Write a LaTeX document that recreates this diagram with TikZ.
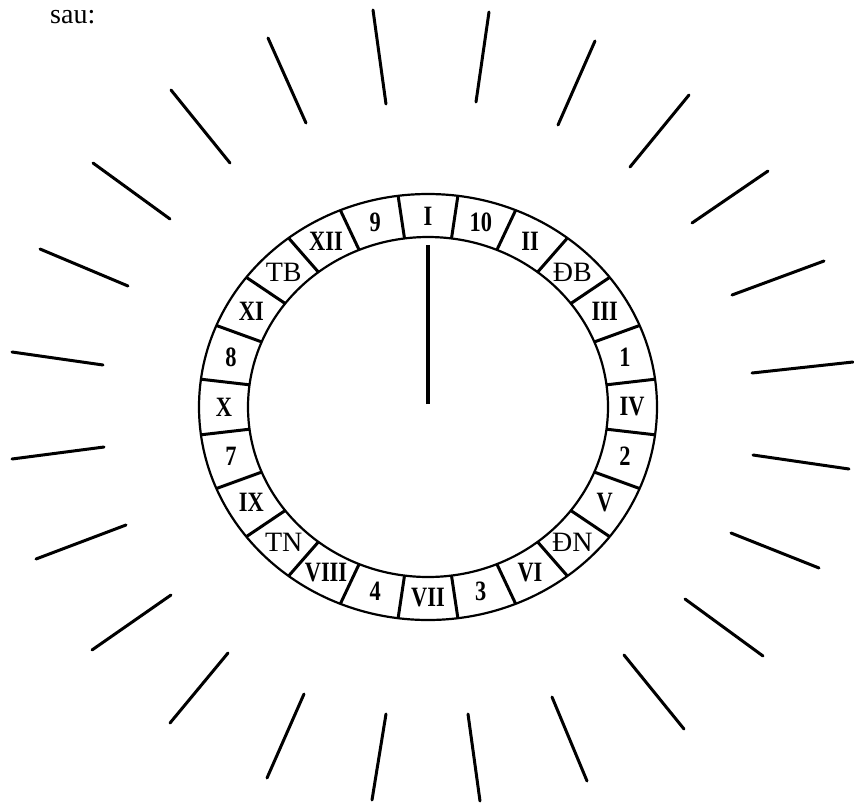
\documentclass[tikz,border=0pt]{standalone}
\usepackage{fontspec}
\setmainfont{Liberation Serif}
\newfontfamily\numfont[FakeStretch=0.8]{Liberation Serif}
\newfontfamily\dirfont{Liberation Serif}
\usetikzlibrary{calc}
\tikzset{
    ring line/.style={line width=2.2pt},
    divider/.style={line width=3pt},
    ray/.style={line width=3pt, line cap=round},
    hand/.style={line width=4.5pt},
    numlabel/.style={
        inner sep=0pt, anchor=center,
        font=\numfont\bfseries\fontsize{28}{28}\selectfont
    },
    dirlabel/.style={
        inner sep=0pt, anchor=center,
        font=\dirfont\fontsize{28}{28}\selectfont
    },
    caption text/.style={
        inner sep=0pt, anchor=base west,
        font=\fontsize{28}{28}\selectfont
    },
}
\begin{document}
\begin{tikzpicture}[x=1pt, y=-1pt]
    \useasboundingbox (0,0) rectangle (854,804);

    \node[caption text] (intro) at (50,23) {sau:};

    % ── Ring ──
    \coordinate (center) at (428,407);
    \draw[ring line] (center) ellipse [x radius=229pt, y radius=213pt];
    \draw[ring line] (center) ellipse [x radius=180pt, y radius=170pt];

    \foreach \k in {0,...,23}{
        \pgfmathsetmacro{\ang}{97.5-15*\k}
        \draw[divider] ($(center)+(\ang:180pt and 170pt)$) -- ($(center)+(\ang:229pt and 213pt)$);
    }

    % ── Labels, clockwise from the top ──
    \foreach \lbl/\sty [count=\k from 0] in {
        I/numlabel, 10/numlabel, II/numlabel, ĐB/dirlabel,
        III/numlabel, 1/numlabel, IV/numlabel, 2/numlabel,
        V/numlabel, ĐN/dirlabel, VI/numlabel, 3/numlabel,
        VII/numlabel, 4/numlabel, VIII/numlabel, TN/dirlabel,
        IX/numlabel, 7/numlabel, X/numlabel, 8/numlabel,
        XI/numlabel, TB/dirlabel, XII/numlabel, 9/numlabel}{
        \pgfmathsetmacro{\ang}{90-15*\k}
        \node[\sty] (seg\k) at ($(center)+(\ang:204pt and 191pt)$) {\lbl};
    }

    % ── Hand ──
    \coordinate (handtip) at (428,245);
    \coordinate (handbase) at (428,404);
    \draw[hand] (handbase) -- (handtip);

    % ── Rays ──
    \foreach \xa/\ya/\xb/\yb in {
        386/104/373/10, 306/123/268/38, 230/163/171/90,
        170/219/93/163, 128/286/40/249, 103/365/12/352,
        104/447/12/459, 126/525/36/559, 171/595/92/650,
        228/653/170/723, 304/694/267/778, 386/714/372/800,
        468/714/480/801, 552/697/587/781, 624/655/684/729,
        685/599/763/656, 731/533/819/568, 753/455/849/469,
        752/373/853/362, 732/295/824/261, 692/223/768/171,
        630/167/689/95, 558/125/595/41, 476/102/489/12}{
        \draw[ray] (\xa,\ya) -- (\xb,\yb);
    }
\end{tikzpicture}
\end{document}
